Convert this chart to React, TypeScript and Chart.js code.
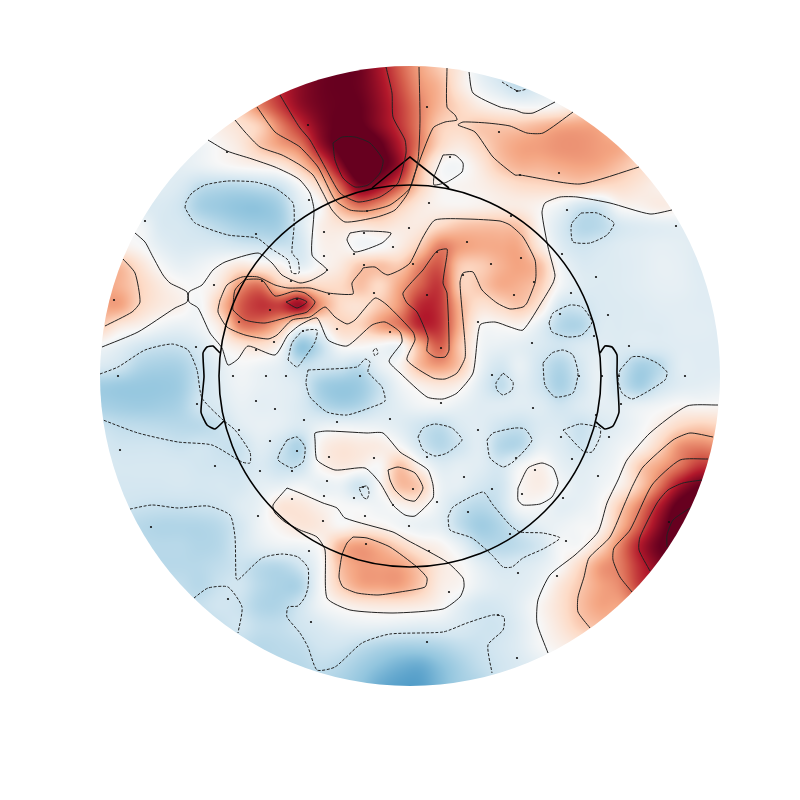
import React, { useEffect, useRef } from "react";
import { Chart, registerables } from "chart.js";

Chart.register(...registerables);

type P = [number, number];

// Field samples (hundredths), columns x = 100..720 step 20, rows y = 66..686 step 20
const gridX0 = 100;
const gridY0 = 66;
const gridStep = 20;
const fieldRows: number[][] = [
  [0,0,0,0,0,0,10,30,50,70,88,97,100,98,82,60,40,25,10,-10,-20,-30,-20,0,10,10,10,10,10,10,10,10],
  [0,0,0,0,0,5,20,30,55,75,90,98,100,98,85,65,45,33,10,-5,-15,-25,-15,0,10,20,20,20,20,20,20,20],
  [-5,-5,-5,0,0,5,15,27,50,70,88,97,100,100,88,70,50,33,20,8,2,-2,-2,2,15,25,25,25,20,20,20,20],
  [-5,-5,-5,-5,-5,0,8,15,25,50,72,93,102,102,90,72,50,25,20,27,27,28,33,38,40,38,25,25,20,20,15,15],
  [-10,-10,-10,-10,-10,-5,2,10,27,40,52,85,105,115,103,80,50,20,10,20,33,40,42,45,45,42,38,25,15,15,10,10],
  [-15,-15,-15,-15,-10,-7,-2,2,5,10,27,55,90,115,105,85,35,2,-2,10,27,35,35,38,40,38,30,20,10,5,5,5],
  [-15,-15,-15,-12,-15,-25,-28,-28,-25,-20,-2,20,60,95,85,60,25,3,3,6,12,18,20,22,24,20,18,12,5,0,0,0],
  [-15,-15,-15,-15,-20,-33,-37,-40,-40,-33,-12,0,35,55,45,25,10,4,3,5,8,8,3,-5,-18,-18,1,4,8,5,0,0],
  [-5,-5,-3,-15,-17,-22,-28,-33,-35,-33,-15,5,12,12,15,10,10,20,28,30,30,27,2,-15,-28,-27,-17,-13,-11,-10,-10,-10],
  [10,5,0,-10,-15,-15,-15,-18,-20,-22,-18,3,5,-3,-1,8,25,50,42,38,38,37,10,-12,-20,-17,-13,-11,-9,-10,-12,-12],
  [35,32,15,0,-8,-5,2,12,8,4,-10,2,10,27,30,27,50,62,27,25,35,40,30,-2,-14,-14,-13,-11,-8,-9,-13,-13],
  [40,35,22,10,2,0,12,45,55,27,28,20,20,30,20,40,60,70,25,27,37,35,25,-2,-12,-14,-13,-11,-9,-9,-12,-12],
  [40,40,20,10,5,-2,27,60,72,70,85,45,20,15,27,45,75,72,35,15,20,27,12,-18,-20,-15,-14,-13,-11,-11,-12,-12],
  [25,10,4,-4,-8,-4,10,50,52,33,2,2,20,22,40,52,75,72,35,2,1,3,-10,-28,-30,-15,-14,-13,-13,-11,-11,-12],
  [-3,-10,-18,-22,-22,-15,0,10,15,2,-38,-25,0,2,-2,-3,35,60,27,-2,-8,-10,-15,-20,-15,-12,-14,-14,-14,-12,-12,-12],
  [-15,-20,-30,-33,-32,-22,-10,-2,-5,-10,-22,-20,-20,-25,-8,3,32,42,27,-5,-18,-8,-20,-30,-18,-8,-20,-33,-27,-12,-12,-12],
  [-35,-37,-38,-38,-35,-22,-12,-5,-8,-10,-15,-33,-38,-36,-22,-5,5,10,5,-12,-25,-12,-20,-32,-20,-8,-22,-33,-20,-12,-10,-8],
  [-33,-35,-36,-35,-32,-20,-15,-8,-10,-10,-15,-27,-33,-30,-18,-10,-4,-3,-8,-12,-12,-12,-13,-20,-14,-10,-10,-7,-3,2,1,2],
  [-22,-25,-26,-27,-28,-27,-22,-12,-8,-10,-15,-8,-5,-6,-7,-12,-20,-25,-15,-12,-20,-23,-15,-15,-22,-15,-10,-3,8,20,25,22],
  [-18,-20,-20,-20,-22,-20,-22,-22,-12,-20,-30,3,12,10,8,0,-18,-28,-20,-12,-28,-28,-10,-13,-20,-12,-5,3,22,45,50,45],
  [-15,-17,-17,-17,-17,-19,-20,-20,-15,-22,-22,2,10,6,1,28,4,-12,-10,-12,-18,-3,5,-8,-12,-8,0,25,40,55,72,70],
  [-18,-18,-18,-18,-17,-18,-17,-17,-10,-8,-3,-8,-7,-20,1,30,25,-5,-10,-18,-20,1,7,-3,-10,-5,5,27,55,85,100,95],
  [-20,-20,-22,-23,-23,-22,-20,-13,-7,12,12,5,0,-2,-4,3,6,-8,-22,-28,-22,-2,-2,-10,-8,0,25,50,80,105,105,100],
  [-22,-25,-28,-30,-30,-30,-27,-18,-5,4,12,10,2,6,4,-3,-7,-10,-25,-35,-30,-18,-10,-6,-2,3,33,62,92,110,105,100],
  [-20,-25,-27,-28,-28,-30,-28,-18,-10,-6,-5,2,33,42,35,22,10,4,-8,-25,-28,-25,-18,-2,0,20,50,80,100,105,100,100],
  [-20,-25,-28,-28,-28,-28,-25,-22,-27,-28,-20,-3,30,42,42,40,27,10,2,-10,-17,-15,-10,0,20,42,52,75,92,100,100,100],
  [-25,-25,-25,-25,-25,-28,-22,-20,-28,-32,-30,-3,23,38,40,40,27,8,2,-8,-13,-12,-5,12,27,40,48,70,80,80,80,80],
  [-25,-25,-25,-25,-25,-23,-20,-22,-30,-30,-20,-5,3,8,10,10,8,2,-10,-18,-17,-10,2,15,30,40,40,50,50,50,50,50],
  [-25,-25,-25,-25,-25,-27,-23,-20,-25,-25,-20,-15,-10,-8,-8,-10,-12,-12,-15,-20,-20,-12,0,12,25,30,30,30,30,30,30,30],
  [-25,-25,-25,-25,-25,-25,-25,-25,-28,-27,-25,-20,-20,-25,-30,-33,-33,-30,-25,-22,-18,-12,-2,5,10,10,10,10,10,10,10,10],
  [-28,-28,-28,-28,-28,-28,-28,-28,-28,-28,-28,-25,-28,-35,-42,-48,-50,-42,-33,-25,-20,-15,-10,-5,0,0,0,0,0,0,0,0],
  [-30,-30,-30,-30,-30,-30,-30,-30,-30,-30,-30,-30,-33,-40,-50,-55,-55,-45,-35,-30,-20,-15,-10,-5,0,0,0,0,0,0,0,0],
];

// Colour stops for the field, -1..1
const colourStops: [number, number, number][] = [
  [5, 48, 97], [33, 102, 172], [67, 147, 195], [146, 197, 222], [209, 229, 240], [247, 247, 247],
  [253, 219, 199], [244, 165, 130], [214, 96, 77], [178, 24, 43], [103, 0, 31],
];

const closed = (p: P[]): P[] => [...p, p[0]];

const solidContours: P[][] = [
  [[135,233],[145,242],[153,257],[163,275],[170,283],[187,292],[187,302],[175,308],[138,332],[102,347]],
  [[208,140],[227,151],[252,159],[275,167],[292,175],[300,180],[310,193],[314,210],[312,255],[327,270],[312,280],[300,283],[282,275],[272,263],[258,253],[225,262],[213,270],[202,285],[189,292],[189,302],[198,308],[210,333],[222,348],[228,365],[238,359],[248,346],[275,355],[288,335],[300,325],[317,318],[328,340],[347,346],[372,325],[385,322],[400,332],[402,342],[389,361],[400,373],[427,397],[443,399],[457,393],[473,373],[480,325],[495,322],[510,327],[523,330],[543,300],[553,283],[555,275],[548,247],[542,213],[545,203],[560,197],[577,197],[610,203],[650,214],[672,210]],
  [[123,259],[135,273],[140,302],[132,312],[105,326]],
  [[280,95],[293,117],[300,128],[310,140],[325,167],[340,193],[358,202],[380,197],[398,183],[406,153],[405,140],[393,117],[392,93],[386,67]],
  [[257,107],[275,132],[292,142],[300,147],[318,167],[335,200],[350,210],[367,211],[390,205],[410,188],[418,160],[420,120],[419,67]],
  [[235,120],[245,132],[260,147],[282,155],[300,165],[313,175],[323,193],[332,210],[345,222],[377,217],[395,210],[408,193],[415,173],[433,128],[445,122],[457,120],[455,115],[447,107],[447,68]],
  closed([[333,143],[342,137],[355,137],[370,143],[383,160],[380,173],[368,185],[355,187],[343,178],[335,160]]),
  closed([[443,155],[455,155],[463,163],[462,172],[447,182],[434,185],[434,177],[438,167]]),
  closed([[350,233],[363,231],[391,233],[382,243],[355,252],[347,240]]),
  [[573,112],[543,133],[527,133],[510,126],[487,123],[463,122],[458,125],[475,132],[493,157],[515,175],[520,175],[580,184],[639,167]],
  [[469,72],[473,93],[500,107],[515,110],[523,113],[533,113],[555,102]],
  closed([[220,300],[227,285],[242,277],[258,277],[275,285],[288,288],[310,288],[328,293],[353,294],[352,283],[362,270],[363,268],[375,267],[383,273],[388,275],[400,270],[410,263],[423,237],[435,220],[467,219],[500,221],[510,225],[523,237],[535,260],[536,275],[535,283],[527,303],[523,307],[510,309],[497,303],[482,290],[473,272],[463,273],[460,283],[465,343],[465,358],[457,373],[445,379],[433,378],[407,360],[415,340],[413,332],[387,305],[375,298],[355,320],[347,324],[335,317],[325,307],[310,317],[292,320],[277,335],[268,339],[245,335],[227,327],[218,312]]),
  closed([[233,305],[235,290],[245,280],[262,280],[275,296],[295,291],[305,293],[315,302],[307,312],[295,315],[265,323],[245,320],[233,310]]),
  closed([[286,302],[297,298],[307,302],[297,308]]),
  closed([[423,270],[403,293],[407,303],[417,312],[428,338],[427,351],[435,357],[445,357],[449,350],[447,293],[443,283],[447,255],[447,249],[437,251]]),
  closed([[315,440],[315,433],[327,431],[367,433],[383,433],[400,452],[413,460],[428,470],[433,485],[433,498],[415,516],[405,515],[393,505],[380,483],[365,468],[335,470],[317,460]]),
  closed([[388,470],[398,467],[415,473],[423,488],[415,501],[405,499],[395,490],[390,480]]),
  closed([[518,488],[518,500],[523,505],[540,504],[552,497],[558,483],[553,468],[542,463],[528,468]]),
  closed([[287,488],[300,493],[323,503],[337,508],[345,518],[393,532],[407,540],[447,562],[463,578],[464,587],[460,597],[443,609],[393,613],[350,610],[327,598],[325,550],[317,537],[300,530],[285,522],[275,513],[273,505]]),
  closed([[353,537],[367,538],[390,547],[417,567],[427,578],[425,587],[400,592],[378,595],[357,593],[343,587],[339,577],[342,555],[347,543]]),
  [[718,405],[687,406],[650,433],[627,460],[618,480],[607,503],[598,532],[575,555],[550,575],[538,600],[537,623],[548,653]],
  [[713,437],[690,433],[673,440],[643,467],[633,485],[625,503],[610,537],[589,558],[584,577],[578,597],[578,612],[590,628]],
  [[708,459],[680,460],[652,485],[630,530],[614,548],[613,560],[620,577],[632,592]],
  [[702,480],[683,483],[668,490],[657,503],[640,537],[639,550],[650,571]],
  [[690,508],[673,520],[667,535],[667,547]],
];

const dashedContours: P[][] = [
  closed([[185,208],[186,202],[192,193],[205,185],[228,181],[255,182],[275,188],[293,203],[294,227],[292,253],[298,260],[299,273],[292,273],[288,260],[270,248],[257,238],[228,235],[195,223]]),
  closed([[581,213],[597,213],[614,223],[607,235],[590,243],[573,242],[571,230],[572,223]]),
  [[502,82],[510,87],[518,91],[527,89]],
  [[100,374],[118,367],[145,350],[172,344],[188,350],[197,370],[202,398],[223,420],[235,430],[250,452],[250,463],[242,462],[212,445],[178,442],[138,433],[103,420]],
  closed([[287,440],[297,437],[305,447],[303,462],[292,468],[278,460],[280,452]]),
  closed([[288,360],[292,343],[303,331],[317,330],[315,342],[303,360],[297,367]]),
  closed([[308,370],[357,367],[365,359],[370,362],[368,372],[382,387],[385,401],[372,407],[347,415],[327,412],[310,397],[306,383]]),
  closed([[373,351],[376,348],[378,353],[375,356]]),
  closed([[503,373],[513,382],[512,390],[503,395],[497,390],[496,383]]),
  closed([[418,437],[423,428],[435,424],[452,428],[462,440],[447,453],[435,456],[423,450]]),
  closed([[487,440],[493,433],[515,428],[525,429],[532,440],[525,450],[513,462],[503,467],[490,458]]),
  closed([[549,323],[553,313],[570,305],[582,307],[592,322],[582,335],[568,337],[552,332]]),
  closed([[543,363],[552,353],[563,350],[573,355],[578,373],[573,393],[555,397],[545,385]]),
  closed([[620,370],[632,357],[643,357],[657,363],[667,372],[665,380],[645,393],[632,399],[622,393],[618,380]]),
  closed([[563,430],[580,424],[600,428],[600,437],[592,452],[583,451]]),
  closed([[359,488],[367,486],[369,493],[367,499],[363,497]]),
  closed([[448,517],[453,507],[483,492],[493,505],[510,525],[520,532],[543,533],[560,538],[543,549],[523,558],[512,567],[503,567],[492,555],[472,538],[450,530]]),
  [[130,509],[152,505],[178,508],[208,506],[230,515],[235,537],[236,578],[238,580],[262,558],[282,554],[298,557],[308,568],[308,587],[305,597],[298,606],[288,607],[287,617],[300,633],[308,647],[317,670],[335,667],[362,643],[390,634],[443,632],[467,623],[493,615],[504,617],[503,630],[488,645],[492,673]],
  [[194,598],[208,588],[228,587],[242,607],[238,633]],
];

const noseLine: P[] = [[372,188],[410,157],[449,188]];
const leftEar: P[] = [[220,353],[213,346],[207,347],[203,353],[204,377],[201,412],[207,425],[215,429],[224,421]];
const rightEar: P[] = [[600,353],[605,346],[612,347],[617,355],[617,373],[619,412],[613,426],[605,429],[596,422]];
const headCentre: P = [410, 376];
const headRadius = 191;
const fieldRadius = 310;

const sensors: P[] = [
  [308,125],[227,152],[145,221],[256,234],[309,200],[427,107],[499,132],[450,157],[367,211],[429,203],[511,216],[324,232],[364,233],[409,228],[467,242],[393,247],[324,256],[354,254],[364,265],[413,264],[491,264],[437,252],[327,270],
  [517,91],[559,173],[520,175],[567,210],[676,226],[562,254],[521,258],
  [114,300],[214,285],[262,281],[291,281],[270,310],[297,299],[239,322],[303,331],[274,342],[196,347],[256,350],[118,376],[233,376],[266,376],[286,376],[256,401],[197,404],[275,409],[304,420],[239,430],[270,441],[297,451],[120,450],[215,466],[260,471],[292,471],
  [329,294],[374,293],[427,295],[463,275],[514,295],[337,329],[390,332],[478,322],[441,348],[360,376],[492,375],[441,403],[337,422],[390,419],[478,430],[329,457],[374,458],[427,457],[327,481],[464,477],
  [596,277],[534,282],[571,293],[560,314],[608,315],[594,336],[532,343],[629,346],[579,376],[602,376],[619,376],[685,376],[621,404],[533,408],[596,415],[609,437],[561,437],[516,458],[572,459],[535,470],[598,476],
  [151,527],[258,516],[292,499],[309,551],[228,599],[324,496],[354,498],[363,487],[365,516],[413,489],[437,502],[393,505],[323,521],[409,526],[366,544],[429,551],[449,592],[311,622],[427,642],[498,615],[492,489],[468,512],[510,534],
  [522,494],[563,498],[669,522],[566,541],[518,573],[557,576],[517,658],
];

const toPts = (p: P[]) => p.map(([x, y]) => ({ x, y }));

function cubic(a: number, b: number, c: number, d: number, t: number) {
  return b + 0.5 * t * (c - a + t * (2 * a - 5 * b + 4 * c - d + t * (3 * (b - c) + d - a)));
}
function sample(px: number, py: number) {
  const gx = (px - gridX0) / gridStep;
  const gy = (py - gridY0) / gridStep;
  const ix = Math.floor(gx);
  const iy = Math.floor(gy);
  const tx = gx - ix;
  const ty = gy - iy;
  const rows = fieldRows.length;
  const cols = fieldRows[0].length;
  const at = (r: number, c: number) =>
    fieldRows[Math.min(rows - 1, Math.max(0, r))][Math.min(cols - 1, Math.max(0, c))];
  const v: number[] = [];
  for (let k = -1; k <= 2; k++) {
    v.push(cubic(at(iy + k, ix - 1), at(iy + k, ix), at(iy + k, ix + 1), at(iy + k, ix + 2), tx));
  }
  return cubic(v[0], v[1], v[2], v[3], ty) / 100;
}
function colour(v: number): [number, number, number] {
  const s = Math.max(0, Math.min(0.9999, (v + 1) / 2)) * (colourStops.length - 1);
  const i = Math.floor(s);
  const f = s - i;
  const a = colourStops[i];
  const b = colourStops[i + 1];
  return [a[0] + (b[0] - a[0]) * f, a[1] + (b[1] - a[1]) * f, a[2] + (b[2] - a[2]) * f];
}

const fieldPlugin = {
  id: "field",
  beforeDatasetsDraw(chart: any) {
    const { ctx, scales } = chart;
    const xs = scales.x;
    const ys = scales.y;
    const cx = xs.getPixelForValue(headCentre[0]);
    const cy = ys.getPixelForValue(headCentre[1]);
    const r = xs.getPixelForValue(headCentre[0] + fieldRadius) - cx;
    const size = Math.ceil(2 * r) + 2;
    const left = Math.floor(cx - r) - 1;
    const top = Math.floor(cy - r) - 1;
    const off = document.createElement("canvas");
    off.width = size;
    off.height = size;
    const octx = off.getContext("2d")!;
    const img = octx.createImageData(size, size);
    for (let j = 0; j < size; j++) {
      for (let i = 0; i < size; i++) {
        const vx = xs.getValueForPixel(left + i + 0.5);
        const vy = ys.getValueForPixel(top + j + 0.5);
        const c = colour(sample(vx, vy));
        const o = (j * size + i) * 4;
        img.data[o] = c[0];
        img.data[o + 1] = c[1];
        img.data[o + 2] = c[2];
        img.data[o + 3] = 255;
      }
    }
    octx.putImageData(img, 0, 0);
    ctx.save();
    ctx.beginPath();
    ctx.arc(cx, cy, r, 0, Math.PI * 2);
    ctx.clip();
    ctx.drawImage(off, left, top);
    ctx.restore();
  },
  afterDatasetsDraw(chart: any) {
    const { ctx, scales } = chart;
    const cx = scales.x.getPixelForValue(headCentre[0]);
    const cy = scales.y.getPixelForValue(headCentre[1]);
    const r = scales.x.getPixelForValue(headCentre[0] + headRadius) - cx;
    ctx.save();
    ctx.beginPath();
    ctx.arc(cx, cy, r, 0, Math.PI * 2);
    ctx.lineWidth = 1.6;
    ctx.strokeStyle = "#000";
    ctx.stroke();
    ctx.restore();
  },
};

export default function App() {
  const ref = useRef<HTMLCanvasElement>(null);
  useEffect(() => {
    document.body.style.margin = "0";
    const lineBase = { showLine: true, pointRadius: 0, fill: false, borderColor: "#000", clip: false };
    const chart = new Chart(ref.current!, {
      type: "scatter",
      data: {
        datasets: [
          ...solidContours.map((c, i) => ({
            ...lineBase, label: `solid ${i}`, data: toPts(c), borderWidth: 1, tension: 0.2, borderColor: "#222",
          })),
          ...dashedContours.map((c, i) => ({
            ...lineBase, label: `dashed ${i}`, data: toPts(c), borderWidth: 1, tension: 0.2, borderDash: [3, 1.6], borderColor: "#222",
          })),
          { ...lineBase, label: "nose", data: toPts(noseLine), borderWidth: 1.6, tension: 0 },
          { ...lineBase, label: "left ear", data: toPts(leftEar), borderWidth: 1.6, tension: 0.15 },
          { ...lineBase, label: "right ear", data: toPts(rightEar), borderWidth: 1.6, tension: 0.15 },
          {
            label: "sensors", data: toPts(sensors), showLine: false, pointRadius: 1.1, pointBorderWidth: 0,
            pointBackgroundColor: "#111",
          },
        ],
      } as any,
      options: {
        animation: false,
        responsive: false,
        layout: { padding: 0, autoPadding: false },
        plugins: { legend: { display: false }, tooltip: { enabled: false } },
        scales: {
          x: { type: "linear", min: 0, max: 800, display: false },
          y: { type: "linear", min: 0, max: 800, reverse: true, display: false },
        },
      },
      plugins: [fieldPlugin],
    });
    return () => chart.destroy();
  }, []);
  return <canvas ref={ref} width={800} height={800} style={{ display: "block" }} />;
}
